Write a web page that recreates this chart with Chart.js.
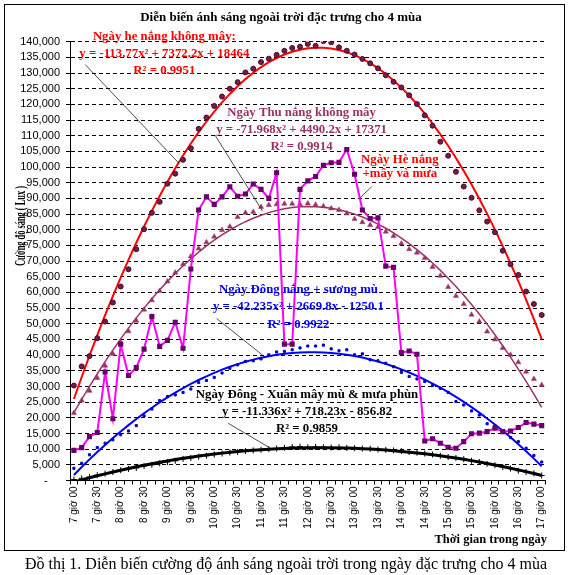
<!DOCTYPE html>
<html>
<head>
<meta charset="utf-8">
<script src="https://cdn.jsdelivr.net/npm/chart.js@4.4.0/dist/chart.umd.min.js"></script>
<style>
  body { margin: 0; background: #fff; }
  canvas { display: block; }
</style>
</head>
<body>
<canvas id="chart_light" width="569" height="575"></canvas>
<script>
// time of day, every 10 minutes
var times = [
  "7 giờ 00","7 giờ 10","7 giờ 20","7 giờ 30","7 giờ 40","7 giờ 50",
  "8 giờ 00","8 giờ 10","8 giờ 20","8 giờ 30","8 giờ 40","8 giờ 50",
  "9 giờ 00","9 giờ 10","9 giờ 20","9 giờ 30","9 giờ 40","9 giờ 50",
  "10 giờ 00","10 giờ 10","10 giờ 20","10 giờ 30","10 giờ 40","10 giờ 50",
  "11 giờ 00","11 giờ 10","11 giờ 20","11 giờ 30","11 giờ 40","11 giờ 50",
  "12 giờ 00","12 giờ 10","12 giờ 20","12 giờ 30","12 giờ 40","12 giờ 50",
  "13 giờ 00","13 giờ 10","13 giờ 20","13 giờ 30","13 giờ 40","13 giờ 50",
  "14 giờ 00","14 giờ 10","14 giờ 20","14 giờ 30","14 giờ 40","14 giờ 50",
  "15 giờ 00","15 giờ 10","15 giờ 20","15 giờ 30","15 giờ 40","15 giờ 50",
  "16 giờ 00","16 giờ 10","16 giờ 20","16 giờ 30","16 giờ 40","16 giờ 50",
  "17 giờ 00"
];

// Ngày hè nắng không mây
var summerClear = [30300,36400,39700,45400,50700,56800,61900,67400,73800,80200,
  85400,88900,94700,97900,102300,106000,112200,115800,119500,122500,
  125000,127100,130200,131400,133500,134600,135800,137100,138000,138400,
  139300,138700,140200,139800,138200,137100,135900,134500,133100,131500,
  129300,127200,125400,122900,120100,116500,113200,108100,103600,98500,
  93800,90200,86200,82600,79200,73300,69000,65600,60300,56300,52800];

// Ngày Thu nắng không mây
var autumnClear = [21500,25500,28600,32700,36600,40400,44000,47600,51000,54500,
  57500,60500,63500,66300,69000,71500,74000,76000,77800,79900,
  81000,84100,85400,85700,87300,87900,88100,88300,88300,88100,
  88400,88000,87500,86800,86300,85200,83400,82400,81500,80900,
  79400,78000,75600,73800,72700,71000,68100,65300,61700,58900,
  56300,52900,50700,47500,45000,42300,40100,37700,34700,32400,30500];

// Ngày Hè nắng + mây và mưa
var summerRain = [9600,10500,14000,15300,34600,19700,43500,33500,36000,41900,
  52300,42800,44700,50500,42200,67500,86300,90500,88100,90500,
  93700,90700,91400,94600,92900,90000,98200,43500,43500,92900,
  95600,97000,100600,101400,101500,105600,97700,86300,83600,83800,
  68400,68000,40800,41300,40300,12600,13300,11900,10600,10300,
  12400,14900,15100,15600,16700,15600,15800,16900,18500,18000,17500];

// Ngày Đông nắng + sương mù
var winterSun = [3900,5500,8200,10500,11900,13000,14600,15800,17500,20600,
  22800,25500,26800,27300,28100,29200,31300,31900,32900,34300,
  35800,36900,38000,38200,38800,40100,41000,41200,41700,42300,
  42900,42900,43200,42000,41400,41700,40100,40400,38500,38200,
  37400,36300,34500,33200,32400,31600,30300,29400,28100,25200,
  24100,22200,20900,18100,17500,15400,13700,12400,10300,8000,5900];

// Ngày Đông - Xuân mây mù & mưa phùn
var winterFog = [300,700,1100,1700,2200,2700,3300,3700,4000,4600,
  5000,5500,5900,6300,6900,7200,7600,7900,8300,8600,
  8900,9100,9400,9600,9800,10000,10200,10400,10700,10800,
  10600,10700,10600,10500,10600,10400,10300,10200,10100,9900,
  9800,9600,9400,9100,8900,8600,8300,7900,7500,7200,
  6800,6300,5900,5300,4900,4300,3800,3100,2700,2300,1600];

// labels on the plot: [x index, y value] of the first line's centre
var notes = [
  { text: ["Ngày he nắng không mây:", "y = -113.77x² + 7372.2x + 18464", "R² = 0.9951"],
    color: "#FF0000", at: [11.6, 141700], gap: 17, leader: [[1.45, 132700], [13.5, 101150]] },
  { text: ["Ngày Thu nắng không mây", "y = -71.968x² + 4490.2x + 17371", "R² = 0.9914"],
    color: "#993366", at: [29.2, 117200], gap: 16.8, leader: [[18.1, 110200], [24.2, 85900]] },
  { text: ["Ngày Hè nắng", "+mây và mưa"],
    color: "#FF0000", at: [41.8, 102200], gap: 13.3, leader: [[38.2, 93750], [36.7, 90200]] },
  { text: ["Ngày Đông nắng + sương mù", "y = -42.235x² + 2669.8x - 1250.1", "R² = 0.9922"],
    color: "#0000FF", at: [28.8, 61000], gap: 17.5, leader: [[18.3, 51700], [24.2, 40000]] },
  { text: ["Ngày Đông - Xuân mây mù & mưa phùn", "y = -11.336x² + 718.23x - 856.82", "R² = 0.9859"],
    color: "#000000", at: [29.9, 27260], gap: 16.7, leader: [[19.8, 18240], [25.1, 10460]] }
];

// polynomial (order 2) trendline, same as Excel: x = 1..n
const quadFit = (ys) => {
  var S = [0, 0, 0, 0, 0], T = [0, 0, 0];
  ys.forEach((y, i) => {
    var x = i + 1;
    for (var k = 0; k < 5; k++) S[k] += Math.pow(x, k);
    for (var k = 0; k < 3; k++) T[k] += Math.pow(x, k) * y;
  });
  const det = (m) => m[0][0]*(m[1][1]*m[2][2]-m[1][2]*m[2][1])
    - m[0][1]*(m[1][0]*m[2][2]-m[1][2]*m[2][0])
    + m[0][2]*(m[1][0]*m[2][1]-m[1][1]*m[2][0]);
  var M = [[S[4], S[3], S[2]], [S[3], S[2], S[1]], [S[2], S[1], S[0]]];
  var R = [T[2], T[1], T[0]];
  var D = det(M);
  var coef = [0, 1, 2].map((c) => det(M.map((row, r) => row.map((v, j) => j === c ? R[r] : v))) / D);
  return ys.map((_, i) => coef[0]*(i+1)*(i+1) + coef[1]*(i+1) + coef[2]);
};

const serif = "'Liberation Serif', 'Times New Roman', serif";

const decor = {
  id: 'decor',
  beforeDraw(chart) {
    var ctx = chart.ctx;
    ctx.save();
    ctx.fillStyle = '#fff';
    ctx.fillRect(0, 0, chart.width, chart.height);
    ctx.restore();
  },
  afterDraw(chart) {
    var ctx = chart.ctx, xs = chart.scales.x, ys = chart.scales.y;
    ctx.save();
    // frame
    ctx.strokeStyle = '#000';
    ctx.lineWidth = 1;
    ctx.strokeRect(4.5, 4.5, 560, 546);

    ctx.fillStyle = '#000';
    ctx.textBaseline = 'middle';
    ctx.textAlign = 'center';
    ctx.font = "bold 13px " + serif;
    ctx.fillText("Diễn biến ánh sáng ngoài trời đặc trưng cho 4 mùa", 281, 18);

    ctx.textAlign = 'right';
    ctx.font = "bold 12.5px " + serif;
    ctx.fillText("Thời gian trong ngày", 547, 540);

    // y axis title
    ctx.save();
    ctx.translate(21, 226);
    ctx.rotate(-Math.PI / 2);
    ctx.textAlign = 'center';
    ctx.font = "bold 15px " + serif;
    var yt = "Cường độ sáng ( Lux )";
    var w = ctx.measureText(yt).width;
    ctx.scale(80 / w, 1);
    ctx.fillText(yt, 0, 0);
    ctx.restore();

    // caption
    ctx.textAlign = 'center';
    ctx.textBaseline = 'alphabetic';
    ctx.font = "16px " + serif;
    ctx.fillText("Đồ thị 1. Diễn biến cường độ ánh sáng ngoài trời trong ngày đặc trưng cho 4 mùa", 286, 569);

    // trendline labels and leaders
    ctx.textBaseline = 'middle';
    ctx.font = "bold 12.8px " + serif;
    notes.forEach((n) => {
      ctx.strokeStyle = '#222';
      ctx.lineWidth = 0.8;
      ctx.beginPath();
      ctx.moveTo(xs.getPixelForValue(n.leader[0][0]), ys.getPixelForValue(n.leader[0][1]));
      ctx.lineTo(xs.getPixelForValue(n.leader[1][0]), ys.getPixelForValue(n.leader[1][1]));
      ctx.stroke();
      ctx.fillStyle = n.color;
      var cx = xs.getPixelForValue(n.at[0]), cy = ys.getPixelForValue(n.at[1]);
      n.text.forEach((t, k) => ctx.fillText(t, cx, cy + k * n.gap));
    });
    ctx.restore();
  }
};

const dots = (label, data, extra) => Object.assign({
  label: label, data: data, showLine: false, borderWidth: 1
}, extra);

const trend = (label, data, color, width) => ({
  label: label, data: quadFit(data), borderColor: color, borderWidth: width,
  pointRadius: 0, tension: 0, fill: false
});

var ctx = document.getElementById("chart_light").getContext("2d");
var lightChart = new Chart(ctx, {
  type: 'line',
  data: {
    labels: times,
    datasets: [
      { label: 'Ngày Hè nắng + mây và mưa', data: summerRain, borderColor: '#FF00FF', borderWidth: 2,
        pointStyle: 'rect', pointRadius: 2.2, pointBackgroundColor: '#660066', pointBorderColor: '#660066', tension: 0 },
      dots('Ngày hè nắng không mây', summerClear, { pointStyle: 'circle', pointRadius: 2.5,
        pointBackgroundColor: '#7A1A4A', pointBorderColor: '#4A0A2A' }),
      dots('Ngày Thu nắng không mây', autumnClear, { pointStyle: 'triangle', pointRadius: 3,
        pointBackgroundColor: '#993366', pointBorderColor: '#993366', borderWidth: 0.5 }),
      dots('Ngày Đông nắng + sương mù', winterSun, { pointStyle: 'rect', pointRadius: 1.5,
        pointBackgroundColor: '#0000CC', pointBorderColor: '#0000CC' }),
      dots('Ngày Đông - Xuân mây mù & mưa phùn', winterFog, { pointStyle: 'cross', pointRadius: 3,
        pointBorderColor: '#000', pointBorderWidth: 1 }),
      trend('xu hướng hè', summerClear, '#FF0000', 2),
      trend('xu hướng thu', autumnClear, '#993366', 1.5),
      trend('xu hướng đông', winterSun, '#0000FF', 2),
      trend('xu hướng đông xuân', winterFog, '#000000', 3)
    ]
  },
  options: {
    responsive: false,
    animation: false,
    layout: { padding: { top: 41.7, right: 23.4, bottom: 34.5, left: 0 } },
    plugins: { legend: { display: false }, tooltip: { enabled: false } },
    scales: {
      x: {
        offset: true,
        afterFit: (s) => { s.height = 60; },
        border: { display: true, color: '#000', width: 1 },
        grid: { display: true, drawOnChartArea: false, drawTicks: true, tickLength: 4, offset: true, color: '#000' },
        ticks: {
          autoSkip: false, minRotation: 90, maxRotation: 90, padding: 2, color: '#000',
          font: { family: "'Liberation Sans', Arial, sans-serif", size: 10 },
          callback: (v, i) => (i % 3 === 0 ? times[i] : '')
        }
      },
      y: {
        min: 0, max: 140000,
        afterFit: (s) => { s.width = 70; },
        border: { display: true, color: '#000', width: 1, dash: [4, 3] },
        grid: { color: '#000', lineWidth: 1, tickLength: 4, tickBorderDash: [] },
        ticks: {
          stepSize: 5000, maxTicksLimit: 40, autoSkip: false, padding: 6, color: '#000',
          font: { family: "'Liberation Sans', Arial, sans-serif", size: 11 },
          callback: (v) => (v === 0 ? '-    ' : v.toLocaleString('en-US'))
        }
      }
    }
  },
  plugins: [decor]
});
</script>
</body>
</html>
